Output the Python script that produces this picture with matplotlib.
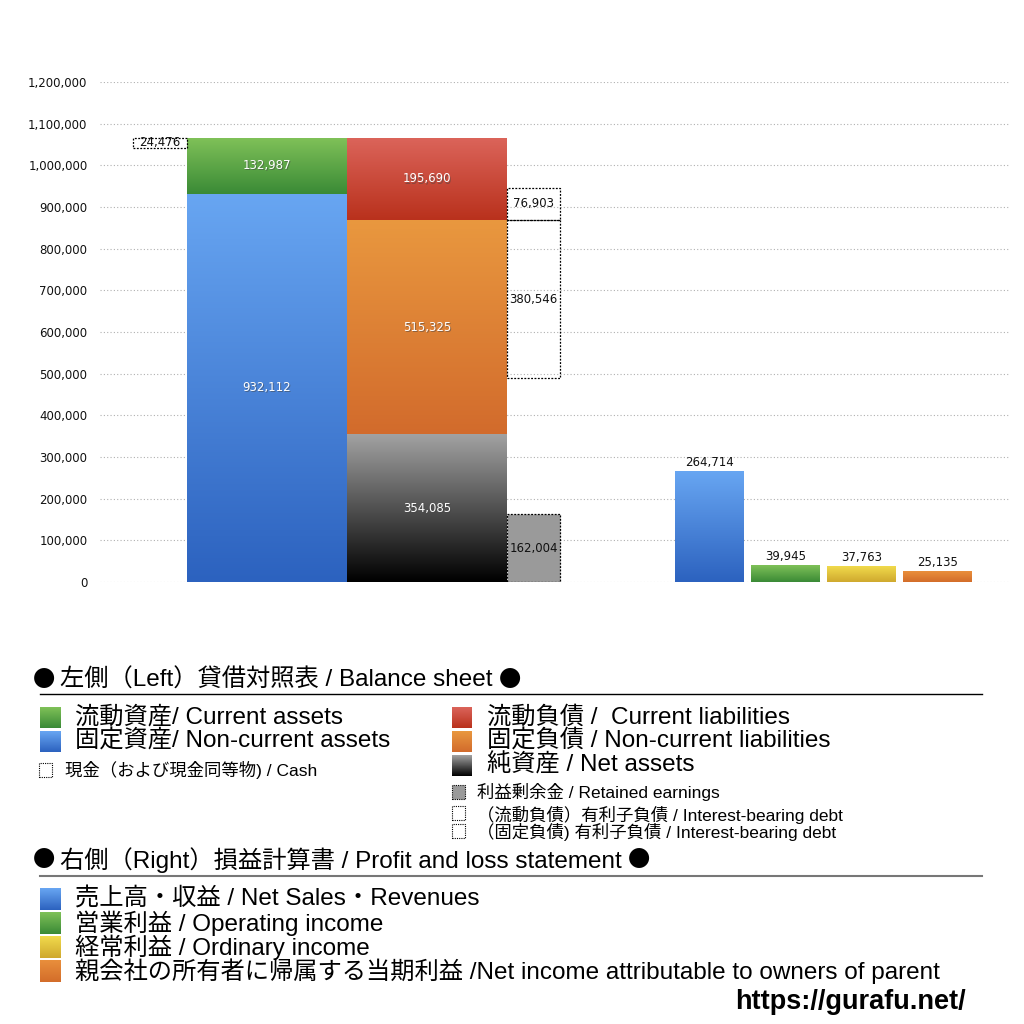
import numpy as np
import matplotlib
matplotlib.use("Agg")
import matplotlib.pyplot as plt
from matplotlib.patches import Rectangle
from matplotlib.colors import LinearSegmentedColormap

plt.rcParams['font.family'] = ['Liberation Sans', 'Noto Sans CJK JP', 'DejaVu Sans']

# ---- data ----
current_assets = 132987
non_current_assets = 932112
cash = 24476
current_liabilities = 195690
non_current_liabilities = 515325
net_assets = 354085
retained_earnings = 162004
ibd_current = 76903
ibd_noncurrent = 380546
pl_labels = ["売上高・収益 / Net Sales・Revenues",
             "営業利益 / Operating income",
             "経常利益 / Ordinary income",
             "親会社の所有者に帰属する当期利益 /Net income attributable to owners of parent"]
pl_values = [264714, 39945, 37763, 25135]
yticks = np.arange(0, 1200001, 100000)

# ---- colors (top, bottom) ----
C_GREEN = ("#7fc158", "#3a8a36")
C_BLUE = ("#68a6f2", "#2c62bf")
C_RED = ("#db645a", "#b9311c")
C_ORANGE = ("#e9983f", "#d26b2c")
C_BLACK = ("#a2a2a2", "#000000")
C_YELLOW = ("#f1da4c", "#cfa92e")
C_ORANGE2 = ("#e98f3c", "#d36d2a")
pl_colors = [C_BLUE, C_GREEN, C_YELLOW, C_ORANGE2]

NUMFONT = ['DejaVu Sans']
NUMSIZE = 8.5

W, H = 1024, 1024
fig = plt.figure(figsize=(W / 100, H / 100), dpi=100)


def fx(px):
    return px / W


def fy(py):
    return 1 - py / H


ax = fig.add_axes([fx(100), fy(582), fx(1010) - fx(100), (582 - 82) / H])
ax.set_xlim(0, 9.1)
ax.set_ylim(0, 1200000)


def grad_bar(ax, x0, w, y0, y1, cols, zorder=2):
    cmap = LinearSegmentedColormap.from_list("g", [cols[1], cols[0]])
    g = np.linspace(0, 1, 256).reshape(-1, 1)
    ax.imshow(g, extent=[x0, x0 + w, y0, y1], origin="lower", cmap=cmap,
              aspect="auto", zorder=zorder, interpolation="bicubic")


def shadow_text(ax, x, y, s):
    ax.text(x + 0.008, y - 2500, s, ha="center", va="center", fontsize=NUMSIZE,
            family=NUMFONT, color="#444444", alpha=0.5, zorder=5)
    ax.text(x, y, s, ha="center", va="center", fontsize=NUMSIZE, family=NUMFONT,
            color="white", zorder=6)


def plain_text(ax, x, y, s, va="center"):
    ax.text(x, y, s, ha="center", va=va, fontsize=NUMSIZE, family=NUMFONT,
            color="#111111", zorder=6)


# left balance sheet
xa, wa = 0.87, 1.60
xl, wl = 2.47, 1.60
xi, wi = 4.07, 0.53
xc, wc = 0.33, 0.54

grad_bar(ax, xa, wa, 0, non_current_assets, C_BLUE)
grad_bar(ax, xa, wa, non_current_assets, non_current_assets + current_assets, C_GREEN)
shadow_text(ax, xa + wa / 2, non_current_assets / 2, f"{non_current_assets:,}")
shadow_text(ax, xa + wa / 2, non_current_assets + current_assets / 2, f"{current_assets:,}")

grad_bar(ax, xl, wl, 0, net_assets, C_BLACK)
grad_bar(ax, xl, wl, net_assets, net_assets + non_current_liabilities, C_ORANGE)
top_ncl = net_assets + non_current_liabilities
grad_bar(ax, xl, wl, top_ncl, top_ncl + current_liabilities, C_RED)
shadow_text(ax, xl + wl / 2, net_assets / 2, f"{net_assets:,}")
shadow_text(ax, xl + wl / 2, net_assets + non_current_liabilities / 2, f"{non_current_liabilities:,}")
shadow_text(ax, xl + wl / 2, top_ncl + current_liabilities / 2, f"{current_liabilities:,}")

# dotted boxes
DOT = (0, (1.5, 1.2))
total_assets = non_current_assets + current_assets
ax.add_patch(Rectangle((xc, total_assets - cash), wc, cash, fill=False,
                       ls=DOT, lw=0.9, ec="black", zorder=4))
plain_text(ax, xc + wc / 2, total_assets - cash / 2 + 3000, f"{cash:,}")

ax.add_patch(Rectangle((xi, 0), wi, retained_earnings, fc="#9a9a9a",
                       ls=DOT, lw=0.9, ec="black", zorder=4))
plain_text(ax, xi + wi / 2, retained_earnings / 2, f"{retained_earnings:,}")

ax.add_patch(Rectangle((xi, top_ncl), wi, ibd_current, fill=False,
                       ls=DOT, lw=0.9, ec="black", zorder=4))
plain_text(ax, xi + wi / 2, top_ncl + ibd_current / 2, f"{ibd_current:,}")

ax.add_patch(Rectangle((xi, top_ncl - ibd_noncurrent), wi, ibd_noncurrent, fill=False,
                       ls=DOT, lw=0.9, ec="black", zorder=4))
plain_text(ax, xi + wi / 2, top_ncl - ibd_noncurrent / 2, f"{ibd_noncurrent:,}")

# right P/L bars
pl_x = [5.75, 6.51, 7.27, 8.03]
pl_w = 0.69
for x, v, c in zip(pl_x, pl_values, pl_colors):
    grad_bar(ax, x, pl_w, 0, v, c)
    plain_text(ax, x + pl_w / 2, v + 6000, f"{v:,}", va="bottom")

ax.set_xlim(0, 9.1)
ax.set_ylim(0, 1200000)
ax.set_yticks(yticks)
ax.set_yticklabels([f"{t:,}" for t in yticks], fontsize=NUMSIZE, family=NUMFONT)
ax.tick_params(axis="y", length=0, pad=9, labelcolor="#111111")
ax.set_xticks([])
for s in ax.spines.values():
    s.set_visible(False)
ax.grid(axis="y", ls=(0, (1, 2)), color="#b0b0b0", lw=0.8, zorder=0)
ax.set_axisbelow(True)

# ---- legend area ----
def fig_grad_square(x0, y0, x1, y1, cols):
    a = fig.add_axes([fx(x0), fy(y1), fx(x1 - x0), (y1 - y0) / H])
    cmap = LinearSegmentedColormap.from_list("g", [cols[1], cols[0]])
    a.imshow(np.linspace(0, 1, 64).reshape(-1, 1), origin="lower", cmap=cmap, aspect="auto")
    a.axis("off")


def fig_dotted_square(x0, y0, x1, y1, fill=None):
    fig.patches.append(Rectangle((fx(x0), fy(y1)), fx(x1 - x0), (y1 - y0) / H,
                                 transform=fig.transFigure, fill=fill is not None,
                                 fc=fill if fill else "none", ec="black", lw=0.8,
                                 ls=(0, (1, 1))))


def ftext(x, y, s, size, **kw):
    return fig.text(fx(x), fy(y), s, fontsize=size, va="center", ha="left", **kw)


BIG = 17.5
SMALL = 12.5

renderer = fig.canvas.get_renderer()


def title_with_bullets(x, y, s, size):
    b1 = ftext(x, y, "●", size - 1.5, family=['Noto Sans CJK JP'])
    e1 = b1.get_window_extent(renderer)
    t = ftext(e1.x1 + 5, y, s, size)
    e2 = t.get_window_extent(renderer)
    ftext(e2.x1 + 6, y, "●", size - 1.5, family=['Noto Sans CJK JP'])


title_with_bullets(33, 680, "左側（Left）貸借対照表 / Balance sheet", BIG)
fig.add_artist(plt.Line2D([fx(40), fx(982)], [fy(694), fy(694)], color="black", lw=1))

# left column
fig_grad_square(40, 707, 61, 728, C_GREEN)
ftext(75, 717, "流動資産/ Current assets", BIG)
fig_grad_square(40, 731, 61, 752, C_BLUE)
ftext(75, 741, "固定資産/ Non-current assets", BIG)
fig_dotted_square(39, 763, 52, 777)
ftext(65, 770, "現金（および現金同等物) / Cash", SMALL)

# right column
fig_grad_square(452, 707, 472, 728, C_RED)
ftext(487, 717, "流動負債 /  Current liabilities", BIG)
fig_grad_square(452, 731, 472, 752, C_ORANGE)
ftext(487, 741, "固定負債 / Non-current liabilities", BIG)
fig_grad_square(452, 755, 472, 776, C_BLACK)
ftext(487, 765, "純資産 / Net assets", BIG)
fig_dotted_square(452, 785, 465, 799, fill="#9a9a9a")
ftext(477, 792, "利益剰余金 / Retained earnings", SMALL)
fig_dotted_square(452, 806, 465, 820)
ftext(477, 815, "（流動負債）有利子負債 / Interest-bearing debt", SMALL)
fig_dotted_square(452, 824, 465, 838)
ftext(477, 832, "（固定負債) 有利子負債 / Interest-bearing debt", SMALL)

title_with_bullets(33, 860, "右側（Right）損益計算書 / Profit and loss statement", BIG)
fig.add_artist(plt.Line2D([fx(40), fx(982)], [fy(876), fy(876)], color="#777777", lw=1.5))

rows_y = [899, 923, 947, 971]
for y, lab, c in zip(rows_y, pl_labels, pl_colors):
    fig_grad_square(40, y - 11, 61, y + 11, c)
    ftext(75, y, lab, BIG)

ftext(735, 1002, "https://gurafu.net/", 19.5, fontweight="bold")

fig.savefig("out.png", dpi=100)
